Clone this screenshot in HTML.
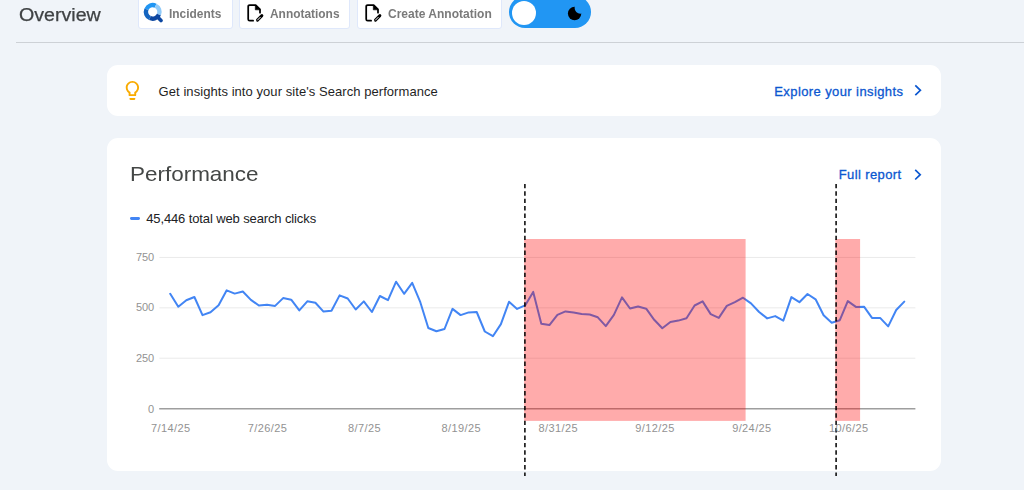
<!DOCTYPE html>
<html><head><meta charset="utf-8">
<style>
*{box-sizing:border-box;margin:0;padding:0}
html,body{width:1024px;height:490px;overflow:hidden;background:#f0f4f9;font-family:"Liberation Sans",sans-serif;}
.abs{position:absolute}
.t{position:absolute;white-space:nowrap;line-height:1;transform-origin:0 50%}
.card{position:absolute;background:#fff;border-radius:11px}
.btn{position:absolute;top:-4px;height:33px;background:#fff;border:1px solid #dfe8fb;border-radius:3px}
.btn .t{font-weight:bold;font-size:13px;color:#7a7a7a;top:10.4px;transform:scaleX(.917)}
.ax{font-size:11px;color:#929292;letter-spacing:.4px}
.ay{font-size:11px;color:#929292;letter-spacing:-.15px;left:103.9px;width:50px;text-align:right}
.lnk{font-size:13px;color:#0b57d0;-webkit-text-stroke:.3px #0b57d0;letter-spacing:.4px}
</style></head><body>
<div class="t" id="ov" style="left:18.6px;top:6px;font-size:18px;color:#3f4244;-webkit-text-stroke:.25px #3f4244;transform:scaleX(1.09)">Overview</div>
<div class="abs" style="left:16px;top:42px;width:1008px;height:1px;background:#cdd1d6"></div>

<div class="btn" style="left:138px;width:95px">
 <svg class="abs" style="left:2.5px;top:4px" width="22" height="22" viewBox="0 0 22 22">
  <g fill="none" stroke-width="4.4" transform="translate(10.7 10.9)">
   <path d="M-6.26 -2.66 A6.8 6.8 0 0 1 2.87 -6.16" stroke="#2196f3"/>
   <path d="M2.87 -6.16 A6.8 6.8 0 0 1 6.21 2.77" stroke="#90caf9"/>
   <path d="M6.21 2.77 A6.8 6.8 0 0 1 -2.77 6.21" stroke="#0d47a1"/>
   <path d="M-2.77 6.21 A6.8 6.8 0 0 1 -6.26 -2.66" stroke="#1565c0"/>
   <path d="M4.6 4.8 L8.3 8.6" stroke="#0d47a1" stroke-width="3.6" stroke-linecap="round"/>
  </g></svg>
 <div class="t" id="b1" style="left:30.2px">Incidents</div></div>

<div class="btn" style="left:239px;width:111px">
 <svg class="abs" style="left:7px;top:7px" width="20" height="20" viewBox="0 0 20 20">
  <path d="M6.1 16.65H2.7Q1.2 16.65 1.2 15.15V2.6Q1.2 1.1 2.7 1.1H8.7L13 5.4V8.7" fill="none" stroke="#000" stroke-width="1.75" stroke-linecap="round" stroke-linejoin="round"/>
  <path d="M8.3 1.3V5.85H13.1Z" fill="#000" stroke="#000" stroke-width=".6" stroke-linejoin="round"/>
  <path d="M10.45 16.1L14.9 11.65" stroke="#000" stroke-width="2.9" stroke-linecap="round"/>
  <path d="M10.5 16.05L13.2 13.35" stroke="#fff" stroke-width="1" stroke-linecap="round"/>
 </svg>
 <div class="t" id="b2" style="left:30.3px">Annotations</div></div>

<div class="btn" style="left:357px;width:145px">
 <svg class="abs" style="left:7px;top:7px" width="20" height="20" viewBox="0 0 20 20">
  <path d="M6.1 16.65H2.7Q1.2 16.65 1.2 15.15V2.6Q1.2 1.1 2.7 1.1H8.7L13 5.4V8.7" fill="none" stroke="#000" stroke-width="1.75" stroke-linecap="round" stroke-linejoin="round"/>
  <path d="M8.3 1.3V5.85H13.1Z" fill="#000" stroke="#000" stroke-width=".6" stroke-linejoin="round"/>
  <path d="M10.45 16.1L14.9 11.65" stroke="#000" stroke-width="2.9" stroke-linecap="round"/>
  <path d="M10.5 16.05L13.2 13.35" stroke="#fff" stroke-width="1" stroke-linecap="round"/>
 </svg>
 <div class="t" id="b3" style="left:30px;transform:scaleX(.925)">Create Annotation</div></div>

<div class="abs" style="left:508.8px;top:-3.6px;width:82.2px;height:32px;border-radius:16px;background:#2196f3"></div>
<div class="abs" style="left:512.2px;top:.9px;width:24px;height:24px;border-radius:12px;background:#fff"></div>
<svg class="abs" style="left:564px;top:3px" width="22" height="22" viewBox="564 3 22 22"><defs><mask id="mm"><rect x="560" y="0" width="30" height="30" fill="#fff"/><circle cx="580.3" cy="8" r="5.7" fill="#000"/></mask></defs><circle cx="574.6" cy="13.5" r="6.7" fill="#000" mask="url(#mm)"/></svg>

<div class="card" style="left:107px;top:65px;width:834px;height:51px"></div>
<svg class="abs" style="left:121.3px;top:78.8px" width="22.8" height="22.8" viewBox="0 0 24 24"><path fill="#f9ab00" d="M9 21c0 .55.45 1 1 1h4c.55 0 1-.45 1-1v-1H9v1zm3-19C8.14 2 5 5.14 5 9c0 2.38 1.19 4.47 3 5.74V17c0 .55.45 1 1 1h6c.55 0 1-.45 1-1v-2.26c1.81-1.27 3-3.36 3-5.74 0-3.86-3.14-7-7-7zm2.85 11.1l-.85.6V16h-4v-2.3l-.85-.6C7.8 12.16 7 10.630 7 9c0-2.760 2.240-5 5-5s5 2.240 5 5c0 1.630-.8 3.160-2.150 4.100z"/></svg>
<div class="t" id="gi" style="left:158.6px;top:84px;transform:translateY(.5px);font-size:13px;color:#1f1f1f;letter-spacing:.06px">Get insights into your site's Search performance</div>
<div class="t lnk" id="ex" style="left:774.3px;top:84.6px;transform:translateY(-.45px)">Explore your insights</div>
<svg class="abs" style="left:910px;top:80px" width="16" height="20" viewBox="910 80 16 20"><path d="M915.3 85.4L920.4 90.3L915.3 95.2" fill="none" stroke="#0b57d0" stroke-width="1.7"/></svg>

<div class="card" style="left:107px;top:138px;width:834px;height:333px"></div>
<div class="t" id="pf" style="left:129.6px;top:164px;font-size:20.3px;color:#444746;transform:scaleX(1.107)">Performance</div>
<div class="t lnk" id="fr" style="left:838.7px;top:168px;transform:translateY(.4px)">Full report</div>
<svg class="abs" style="left:910px;top:164px" width="16" height="20" viewBox="910 164 16 20"><path d="M915.2 169.9L920.2 174.7L915.2 179.5" fill="none" stroke="#0b57d0" stroke-width="1.7"/></svg>
<div class="abs" style="left:129.8px;top:217.2px;width:10.5px;height:2.8px;border-radius:1.4px;background:#4285f4"></div>
<div class="t" id="lg" style="left:146.2px;top:212px;font-size:13px;color:#202124;letter-spacing:-.12px">45,446 total web search clicks</div>

<svg class="abs" style="left:0;top:0" width="1024" height="490" viewBox="0 0 1024 490">
 <g stroke="#eaeaea" stroke-width="1"><path d="M159.4 257.45H915.4M159.4 307.85H915.4M159.4 358.2H915.4"/></g>
 <path d="M159.2 408.8H915.4" stroke="#9e9e9e" stroke-width="1.5"/>
 <polyline fill="none" stroke="#4285f4" stroke-width="2" stroke-linejoin="round" stroke-linecap="round" points="170.2,293.8 178.3,306.7 186.3,300.3 194.4,297.0 202.5,315.1 210.5,312.2 218.6,305.2 226.7,290.3 234.7,293.6 242.8,291.5 250.9,299.9 258.9,305.5 267.0,304.8 275.1,305.9 283.1,298.1 291.2,299.7 299.3,310.4 307.3,301.3 315.4,302.8 323.5,311.6 331.5,310.8 339.6,295.4 347.7,298.5 355.7,309.5 363.8,301.4 371.9,312.0 379.9,296.0 388.0,300.1 396.1,281.7 404.1,293.8 412.2,282.9 420.3,302.2 428.3,328.0 436.4,331.3 444.5,329.0 452.5,308.9 460.6,315.1 468.7,312.4 476.7,312.0 484.8,331.5 492.9,336.2 500.9,324.1 509.0,301.8 517.1,308.9 525.1,305.4 533.2,291.9 541.3,323.7 549.4,325.1 557.4,314.9 565.5,311.4 573.6,312.6 581.6,313.9 589.7,314.5 597.8,317.3 605.8,326.1 613.9,314.9 622.0,297.3 630.0,308.5 638.1,306.5 646.2,308.7 654.2,319.8 662.3,328.2 670.4,322.0 678.4,320.6 686.5,318.2 694.6,305.5 702.6,301.4 710.7,314.1 718.8,317.9 726.8,305.9 734.9,302.2 743.0,297.7 751.0,303.4 759.1,312.0 767.2,318.4 775.2,316.1 783.3,320.6 791.4,297.1 799.4,302.2 807.5,294.0 815.6,299.3 823.6,315.3 831.7,322.7 839.8,320.2 847.8,301.1 855.9,306.9 864.0,306.7 872.0,317.9 880.1,317.9 888.2,326.4 896.2,310.0 904.3,301.6"/>
 <rect x="524.1" y="239" width="221.5" height="181.9" fill="rgba(255,0,0,0.33)"/>
 <rect x="835.3" y="239" width="24.8" height="181.9" fill="rgba(255,0,0,0.33)"/>
 <path d="M524.9 183.9V476M836.1 183.9V476" stroke="#000" stroke-width="1.5" stroke-dasharray="4.4 3"/>
</svg>
<div class="t ay" style="top:252px">750</div>
<div class="t ay" style="top:302px">500</div>
<div class="t ay" style="top:353px">250</div>
<div class="t ay" style="top:404px">0</div>
<div class="t ax" style="left:130.8px;width:80px;text-align:center;top:423px">7/14/25</div>
<div class="t ax" style="left:227.6px;width:80px;text-align:center;top:423px">7/26/25</div>
<div class="t ax" style="left:324.5px;width:80px;text-align:center;top:423px">8/7/25</div>
<div class="t ax" style="left:421.3px;width:80px;text-align:center;top:423px">8/19/25</div>
<div class="t ax" style="left:518.2px;width:80px;text-align:center;top:423px">8/31/25</div>
<div class="t ax" style="left:615.0px;width:80px;text-align:center;top:423px">9/12/25</div>
<div class="t ax" style="left:711.9px;width:80px;text-align:center;top:423px">9/24/25</div>
<div class="t ax" style="left:808.8px;width:80px;text-align:center;top:423px">10/6/25</div>
</body></html>
